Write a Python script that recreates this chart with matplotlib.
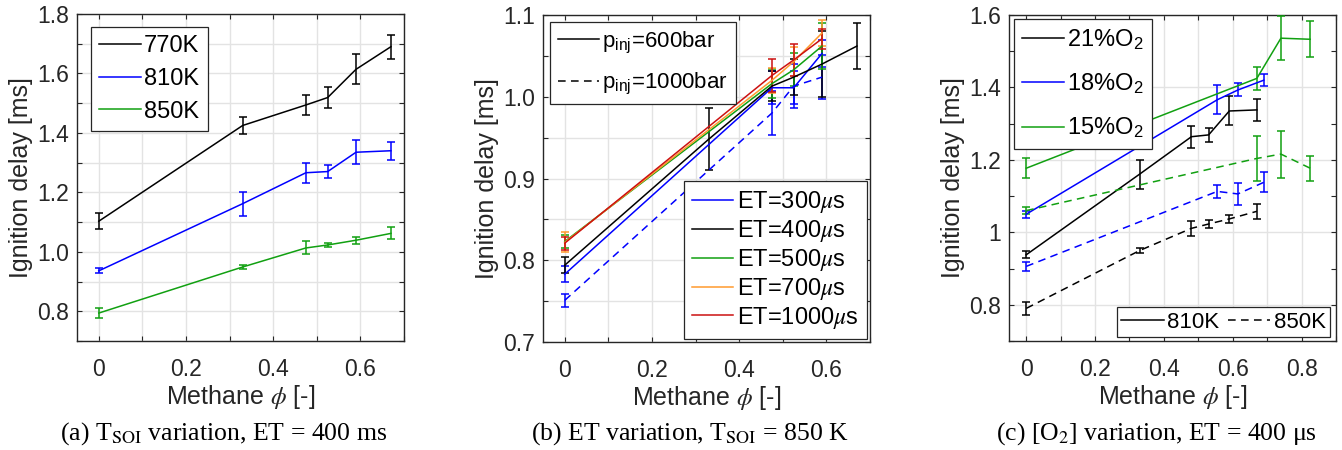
import numpy as np
import matplotlib
matplotlib.use("Agg")
import matplotlib.pyplot as plt
from matplotlib.ticker import MultipleLocator, FuncFormatter

plt.rcParams["font.family"] = ["Liberation Sans", "DejaVu Sans"]
plt.rcParams["mathtext.fontset"] = "custom"
plt.rcParams["mathtext.rm"] = "Liberation Sans"
plt.rcParams["mathtext.it"] = "STIXGeneral:italic"
plt.rcParams["mathtext.bf"] = "Liberation Sans:bold"

# ---------------- DATA ----------------
# (a) T_SOI variation
phi_a = [0, 0.33, 0.475, 0.525, 0.59, 0.67]
a_770 = [1.103, 1.425, 1.494, 1.519, 1.614, 1.690]
a_770_err = [0.027, 0.030, 0.035, 0.035, 0.050, 0.040]
a_810 = [0.936, 1.162, 1.266, 1.270, 1.335, 1.340]
a_810_err = [0.008, 0.040, 0.033, 0.022, 0.040, 0.030]
a_850 = [0.794, 0.949, 1.013, 1.023, 1.039, 1.062]
a_850_err = [0.018, 0.008, 0.022, 0.008, 0.012, 0.020]

# (b) ET variation
phi_b = [0, 0.475, 0.525, 0.59]
phi_b400 = [0, 0.33, 0.475, 0.525, 0.59, 0.67]
b_300 = [0.783, 1.011, 1.011, 1.053]
b_300_err = [0.010, 0.020, 0.020, 0.016]
b_300_hp = [0.751, 0.980, 1.013, 1.024]
b_300_hp_err = [0.008, 0.027, 0.027, 0.027]
b_400 = [0.794, 0.948, 1.013, 1.024, 1.040, 1.062]
b_400_err = [0.010, 0.038, 0.018, 0.022, 0.040, 0.028]
b_500 = [0.823, 1.016, 1.033, 1.062]
b_500_err = [0.008, 0.018, 0.020, 0.028]
b_700 = [0.822, 1.020, 1.043, 1.078]
b_700_err = [0.012, 0.015, 0.018, 0.016]
b_1000 = [0.821, 1.026, 1.045, 1.071]
b_1000_err = [0.008, 0.020, 0.020, 0.012]

# (c) O2 variation
phi_c21 = [0, 0.33, 0.48, 0.53, 0.59, 0.67]
phi_c18 = [0, 0.555, 0.615, 0.69]
phi_c15 = [0, 0.67, 0.74, 0.825]
c21_810 = [0.938, 1.161, 1.264, 1.269, 1.335, 1.338]
c21_810_err = [0.010, 0.040, 0.030, 0.020, 0.040, 0.030]
c18_810 = [1.050, 1.366, 1.393, 1.420]
c18_810_err = [0.010, 0.040, 0.018, 0.016]
c15_810 = [1.177, 1.425, 1.536, 1.533]
c15_810_err = [0.028, 0.032, 0.060, 0.050]
c21_850 = [0.790, 0.950, 1.011, 1.023, 1.037, 1.058]
c21_850_err = [0.018, 0.008, 0.020, 0.010, 0.012, 0.020]
c18_850 = [0.906, 1.113, 1.106, 1.138]
c18_850_err = [0.013, 0.018, 0.030, 0.028]
c15_850 = [1.060, 1.204, 1.216, 1.177]
c15_850_err = [0.010, 0.063, 0.065, 0.035]

BLACK = "#000000"
BLUE = "#0000ff"
GREEN = "#11a011"
ORANGE = "#ff9a2e"
RED = "#cc1111"
DASH = (0, (5, 3.5))

W, H = 1342, 450
fig = plt.figure(figsize=(W / 100, H / 100), dpi=100)


def px_axes(l, t, r, b):
    ax = fig.add_axes([l / W, 1 - b / H, (r - l) / W, (b - t) / H])
    ax._px = (l, t, r, b)
    return ax


def style(ax, xmax, ymin, ymax, ymaj, ymin_step, yfmt, ygrid_minor=True):
    ax.set_xlim(-0.05, xmax)
    ax.set_ylim(ymin, ymax)
    ax.xaxis.set_major_locator(MultipleLocator(0.2))
    ax.xaxis.set_minor_locator(MultipleLocator(0.1))
    ax.yaxis.set_major_locator(MultipleLocator(ymaj))
    ax.yaxis.set_minor_locator(MultipleLocator(ymin_step))
    ax.xaxis.set_major_formatter(FuncFormatter(lambda v, p: "0" if abs(v) < 1e-9 else "%g" % round(v, 2)))
    ax.yaxis.set_major_formatter(FuncFormatter(yfmt))
    ax.grid(True, which="major", color="#e3e3e3", lw=1.0, zorder=0)
    ax.grid(True, which="minor", axis="x", color="#e3e3e3", lw=1.0, zorder=0)
    if ygrid_minor:
        ax.grid(True, which="minor", axis="y", color="#e3e3e3", lw=1.0, zorder=0)
    ax.set_axisbelow(True)
    ax.tick_params(which="both", direction="in", top=True, right=True,
                   length=3.5, width=0.8, color="#262626")
    ax.tick_params(which="major", labelsize=16.5, labelcolor="#262626")
    ax.tick_params(axis="x", which="major", pad=12)
    ax.tick_params(axis="y", which="major", pad=6)
    for s in ax.spines.values():
        s.set_color("#262626")
        s.set_linewidth(1.0)
    ax.set_xlabel(r"Methane $\phi$ [-]", fontsize=18, color="#262626", labelpad=2)
    ax.set_ylabel("Ignition delay [ms]", fontsize=18, color="#262626", labelpad=3)


def eb(ax, x, y, e, c, ls="-"):
    h = ax.errorbar(x, y, yerr=e, color=c, lw=1.1, capsize=2.6, capthick=1.1,
                    elinewidth=1.1, zorder=3)
    h[0].set_linestyle(ls)
    return h[0]


def legend_at(ax, handles, labels, anchor_px, loc, fs, borderpad=0.35, **kw):
    l, t, r, b = ax._px
    ax_x = (anchor_px[0] - l) / (r - l)
    ax_y = 1 - (anchor_px[1] - t) / (b - t)
    lg = ax.legend(handles, labels, loc=loc, bbox_to_anchor=(ax_x, ax_y),
                   borderaxespad=0, fontsize=fs, frameon=True, fancybox=False,
                   framealpha=1, edgecolor="#262626", handletextpad=0.15,
                   borderpad=borderpad, **kw)
    lg.get_frame().set_linewidth(0.9)
    return lg


# ---------------- (a) ----------------
ax1 = px_axes(77, 14, 404, 341)
style(ax1, 0.7, 0.7, 1.8, 0.2, 0.1, lambda v, p: "%.1f" % v)
h1 = eb(ax1, phi_a, a_770, a_770_err, BLACK)
h2 = eb(ax1, phi_a, a_810, a_810_err, BLUE)
h3 = eb(ax1, phi_a, a_850, a_850_err, GREEN)
legend_at(ax1, [h1, h2, h3], ["770K", "810K", "850K"], (91, 27), "upper left", 17,
          handlelength=1.75, labelspacing=0.45)

# ---------------- (b) ----------------
ax2 = px_axes(543, 15, 870, 342)
style(ax2, 0.7, 0.7, 1.1, 0.1, 0.05, lambda v, p: "%.1f" % v)
g1 = eb(ax2, phi_b, b_300, b_300_err, BLUE)
eb(ax2, phi_b, b_300_hp, b_300_hp_err, BLUE, DASH)
g2 = eb(ax2, phi_b400, b_400, b_400_err, BLACK)
g3 = eb(ax2, phi_b, b_500, b_500_err, GREEN)
g4 = eb(ax2, phi_b, b_700, b_700_err, ORANGE)
g5 = eb(ax2, phi_b, b_1000, b_1000_err, RED)
lg_top = legend_at(ax2,
                   [plt.Line2D([], [], color=BLACK, lw=1.1),
                    plt.Line2D([], [], color=BLACK, lw=1.1, ls=DASH)],
                   [r"p$_{\mathrm{inj}}$=600bar", r"p$_{\mathrm{inj}}$=1000bar"],
                   (550, 22), "upper left", 16, handlelength=1.85, labelspacing=0.7)
ax2.add_artist(lg_top)
legend_at(ax2, [g1, g2, g3, g4, g5],
          [r"ET=300$\mu$s", r"ET=400$\mu$s", r"ET=500$\mu$s", r"ET=700$\mu$s", r"ET=1000$\mu$s"],
          (867, 339), "lower right", 17, handlelength=1.75, labelspacing=0.12)

# ---------------- (c) ----------------
ax3 = px_axes(1009, 15, 1336, 341)
style(ax3, 0.9, 0.7, 1.6, 0.2, 0.1, lambda v, p: "1" if abs(v - 1) < 1e-9 else "%.1f" % v,
      ygrid_minor=False)
k1 = eb(ax3, phi_c21, c21_810, c21_810_err, BLACK)
k2 = eb(ax3, phi_c18, c18_810, c18_810_err, BLUE)
k3 = eb(ax3, phi_c15, c15_810, c15_810_err, GREEN)
eb(ax3, phi_c21, c21_850, c21_850_err, BLACK, DASH)
eb(ax3, phi_c18, c18_850, c18_850_err, BLUE, DASH)
eb(ax3, phi_c15, c15_850, c15_850_err, GREEN, DASH)
lg_o2 = legend_at(ax3, [k1, k2, k3], [r"21%O$_2$", r"18%O$_2$", r"15%O$_2$"],
                  (1014, 19), "upper left", 17, handlelength=1.75, labelspacing=0.85)
ax3.add_artist(lg_o2)
legend_at(ax3,
          [plt.Line2D([], [], color=BLACK, lw=1.1),
           plt.Line2D([], [], color=BLACK, lw=1.1, ls=DASH)],
          ["810K", "850K"], (1330, 337), "lower right", 16, borderpad=0.2,
          handlelength=1.9, ncol=2, columnspacing=0.4)

# ---------------- captions ----------------
cap_kw = dict(fontsize=18.5, family="Liberation Serif", math_fontfamily="stix",
              ha="center", va="baseline", color="black")
fig.text(224 / W, 1 - 440 / H, r"(a) T$_{\mathrm{SOI}}$ variation, ET = 400 ms", **cap_kw)
fig.text(690 / W, 1 - 440 / H, r"(b) ET variation, T$_{\mathrm{SOI}}$ = 850 K", **cap_kw)
fig.text(1156 / W, 1 - 440 / H, r"(c) [O$_2$] variation, ET = 400 μs", **cap_kw)

fig.savefig("out.png", dpi=100)
